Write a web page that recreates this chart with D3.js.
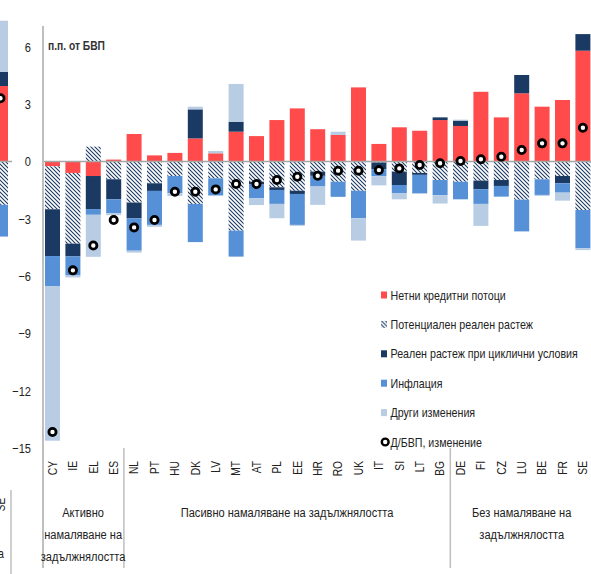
<!DOCTYPE html>
<html>
<head>
<meta charset="utf-8">
<script src="https://cdn.jsdelivr.net/npm/d3@7"></script>
<style>
  body { margin: 0; background: #fff; }
  svg { display: block; font-family: "Liberation Sans", Arial, sans-serif; }
</style>
</head>
<body>
<svg class="board" width="591" height="574"></svg>
<script>
var countries = ['CY', 'IE', 'EL', 'ES', 'NL', 'PT', 'HU', 'DK', 'LV', 'MT', 'AT', 'PL', 'EE', 'HR', 'RO',
  'UK', 'IT', 'SI', 'LT', 'BG', 'DE', 'FI', 'CZ', 'LU', 'BE', 'FR', 'SE'];
var credit = [-0.25, -0.6, -0.76, 0.1, 1.44, 0.32, 0.45, 1.21, 0.43, 1.56, 1.33, 2.17, 2.78, 1.69, 1.39,
  3.88, 0.92, 1.79, 1.61, 2.17, 1.86, 3.65, 2.31, 3.57, 2.87, 3.22, 5.8];
var potential = [-2.25, -3.7, 0.78, -0.93, -2.15, -1.14, -0.76, -2.22, -0.88, -3.62, -1.06, -1.35, -1.53, -0.53, -1.06,
  -1.53, -0.05, -0.53, -0.6, -0.97, -1.06, -1.0, -0.97, -2.0, -0.93, -0.76, -2.54];
var cyclical = [-2.45, -0.67, -1.73, -1.05, -0.82, -0.4, 0, 1.52, 0, 0.52, -0.12, -0.14, -0.17, -0.22, 0,
  0, -0.35, -0.7, -0.1, 0.14, 0.28, -0.45, -0.31, 0.96, 0, -0.38, 0.87];
var inflation = [-1.57, -1.0, -0.3, -0.73, -1.7, -1.78, -0.9, -2.0, -0.9, -1.36, -0.75, -0.73, -1.62, -0.56, -0.79,
  -1.44, -0.37, -0.44, -0.95, -0.79, -0.92, -0.77, -0.56, -1.66, -0.82, -0.49, -2.0];
var other = [-8.1, -0.1, -2.2, -0.1, -0.1, -0.1, -0.15, 0.14, 0.12, 1.98, -0.35, -0.75, -0.05, -0.96, 0.17,
  -1.17, -0.48, -0.31, -0.05, -0.44, 0.05, -1.15, 0, 0, -0.05, -0.42, -0.1];
var debtChange = [-14.16, -5.7, -4.4, -3.06, -3.45, -3.06, -1.58, -1.58, -1.46, -1.18, -1.18, -0.97, -0.8, -0.75, -0.48,
  -0.48, -0.45, -0.36, -0.18, -0.09, 0.03, 0.12, 0.25, 0.6, 0.95, 0.95, 1.77];

// last bar of the neighbouring panel, cut by the left edge
var prevCountries = ['SE'];
var prevCredit = [3.95];
var prevPotential = [-2.27];
var prevCyclical = [0.75];
var prevInflation = [-1.66];
var prevOther = [2.67];
var prevDebtChange = [3.31];

var yTicks = [6, 3, 0, -3, -6, -9, -12, -15];
var groups = [
  { from: 'CY', to: 'ES', lines: ['Активно', 'намаляване на', 'задължнялостта'] },
  { from: 'NL', to: 'BG', lines: ['Пасивно намаляване на задължнялостта'] },
  { from: 'DE', to: 'SE', lines: ['Без намаляване на', 'задължнялостта'] }
];

var seriesKeys = ['credit', 'potential', 'cyclical', 'inflation', 'other'];
var seriesNames = ['Нетни кредитни потоци', 'Потенциален реален растеж', 'Реален растеж при циклични условия',
  'Инфлация', 'Други изменения'];
var colors = { credit: '#ff4b4b', potential: 'url(#hatch)', cyclical: '#1b3a63', inflation: '#5690d6', other: '#b8cce4' };

var NARROW = 0.82;
var board = d3.select('.board');

var defs = board.append('defs');
var pat = defs.append('pattern').attr('id', 'hatch').attr('patternUnits', 'userSpaceOnUse')
  .attr('width', 4).attr('height', 4);
pat.append('rect').attr('width', 4).attr('height', 4).attr('fill', '#fff');
pat.append('path').attr('d', 'M-1,-1L5,5M3,-1L5,1M-1,3L1,5')
  .attr('stroke', '#1b3a63').attr('stroke-width', 1.1);
defs.append('clipPath').attr('id', 'leftClip').append('rect')
  .attr('x', 0).attr('y', 0).attr('width', 12).attr('height', 574);

var y = d3.scaleLinear().domain([-15, 6]).range([448, 46.9]);
var x = d3.scaleBand().domain(countries).range([42.3, 593.1])
  .paddingInner(0.265).paddingOuter(0.1325);
var xPrev = d3.scaleBand().domain(prevCountries).range([-9.7, 10.7])
  .paddingInner(0.265).paddingOuter(0.1325);

// text squeezed horizontally, like a narrow face
function label(root, px, py, str, size, anchor) {
  return root.append('g').attr('transform', 'translate(' + px + ',' + py + ') scale(' + NARROW + ',1)')
    .append('text').attr('font-size', size).attr('fill', '#222')
    .attr('text-anchor', anchor || 'start').text(str);
}

function rows(names, a, b, c, d, e, f) {
  return names.map(function(n, i) {
    return { country: n, credit: a[i], potential: b[i], cyclical: c[i], inflation: d[i], other: e[i], debt: f[i] };
  });
}
var table = rows(countries, credit, potential, cyclical, inflation, other, debtChange);
var prevTable = rows(prevCountries, prevCredit, prevPotential, prevCyclical, prevInflation, prevOther, prevDebtChange);

var stack = d3.stack().keys(seriesKeys).offset(d3.stackOffsetDiverging);

function drawBars(root, data, xs) {
  var layers = root.selectAll('.layer').data(stack(data)).enter().append('g')
    .attr('class', 'layer')
    .attr('fill', function(s) { return colors[s.key]; });
  layers.selectAll('rect').data(function(s) { return s; }).enter().append('rect')
    .attr('x', function(d) { return xs(d.data.country); })
    .attr('width', xs.bandwidth())
    .attr('y', function(d) { return y(Math.max(d[0], d[1])); })
    .attr('height', function(d) { return Math.abs(y(d[0]) - y(d[1])); });
}

function drawDots(root, data, xs) {
  root.selectAll('.dot').data(data).enter().append('circle')
    .attr('class', 'dot')
    .attr('cx', function(d) { return xs(d.country) + xs.bandwidth() / 2; })
    .attr('cy', function(d) { return y(d.debt); })
    .attr('r', 3.6)
    .attr('fill', '#fff')
    .attr('stroke', '#000')
    .attr('stroke-width', 2.8);
}

// neighbouring panel
var prev = board.append('g').attr('clip-path', 'url(#leftClip)');
drawBars(prev, prevTable, xPrev);
prev.append('line').attr('x1', 0).attr('x2', 12).attr('y1', y(0)).attr('y2', y(0))
  .attr('stroke', '#a6a6a6').attr('stroke-width', 1.5);
drawDots(prev, prevTable, xPrev);
prev.append('g').attr('transform', 'translate(' + (xPrev('SE') + xPrev.bandwidth() / 2 + 4) + ',498) rotate(-90) scale(' + NARROW + ',1)')
  .append('text').attr('text-anchor', 'end').attr('font-size', 12).attr('fill', '#222').text('SE');
label(prev, 4, 558, 'задължнялостта', 13, 'end');
board.append('line').attr('x1', 11).attr('x2', 11).attr('y1', 490).attr('y2', 574)
  .attr('stroke', '#bfbfbf').attr('stroke-width', 1.5);

// main panel
var main = board.append('g');
drawBars(main, table, x);

main.append('line').attr('x1', 43).attr('x2', 591).attr('y1', y(0)).attr('y2', y(0))
  .attr('stroke', '#a6a6a6').attr('stroke-width', 1.5);
main.append('line').attr('x1', 43).attr('x2', 43).attr('y1', 26).attr('y2', 568)
  .attr('stroke', '#bfbfbf').attr('stroke-width', 2);

drawDots(main, table, x);

var yAxis = d3.axisLeft(y).tickValues(yTicks).tickSize(0).tickPadding(0);
var yg = board.append('g').attr('transform', 'translate(31,0)').call(yAxis);
yg.select('.domain').remove();
yg.selectAll('text').attr('font-size', 13.5).attr('fill', '#222')
  .attr('font-family', '"Liberation Sans", Arial, sans-serif')
  .attr('transform', 'scale(' + NARROW + ',1)');

board.append('g').attr('transform', 'translate(48,50) scale(' + NARROW + ',1)')
  .append('text').attr('font-size', 12.5).attr('font-weight', 'bold')
  .attr('fill', '#333').text('п.п. от БВП');

var xAxis = d3.axisBottom(x).tickSize(0).tickPadding(0);
var xg = board.append('g').attr('transform', 'translate(0,461)').call(xAxis);
xg.select('.domain').remove();
xg.selectAll('text')
  .attr('font-size', 12.5).attr('fill', '#222')
  .attr('font-family', '"Liberation Sans", Arial, sans-serif')
  .attr('text-anchor', 'end').attr('dy', '0.35em')
  .attr('transform', 'rotate(-90) scale(' + NARROW + ',1)').attr('x', 0).attr('y', 0);

// group separators and labels
var sep = groups.slice(1).map(function(g) { return x(g.from) - x.step() * x.paddingInner() / 2; });
board.selectAll('.sep').data(sep).enter().append('line').attr('class', 'sep')
  .attr('x1', function(d) { return d; }).attr('x2', function(d) { return d; })
  .attr('y1', 448).attr('y2', 568)
  .attr('stroke', '#bfbfbf').attr('stroke-width', 1.5);

groups.forEach(function(g) {
  var cx = (x(g.from) + x(g.to) + x.bandwidth()) / 2;
  g.lines.forEach(function(l, i) {
    label(board, cx, 517 + i * 22, l, 13.5, 'middle');
  });
});

// legend
var legend = board.append('g').attr('transform', 'translate(381,295)');
var items = legend.selectAll('.item').data(seriesKeys).enter().append('g').attr('class', 'item')
  .attr('transform', function(d, i) { return 'translate(0,' + i * 29.4 + ')'; });
items.append('rect').attr('x', 0).attr('y', -3.5).attr('width', 6).attr('height', 7)
  .attr('fill', function(d) { return colors[d]; });
items.each(function(d, i) {
  label(d3.select(this), 9.5, 4.5, seriesNames[i], 13, 'start');
});
var dotItem = legend.append('g').attr('transform', 'translate(0,' + 5 * 29.4 + ')');
dotItem.append('circle').attr('cx', 4.2).attr('cy', 0).attr('r', 3.4)
  .attr('fill', '#fff').attr('stroke', '#000').attr('stroke-width', 2.4);
label(dotItem, 9.5, 4.5, 'Д/БВП, изменение', 13, 'start');
</script>
</body>
</html>
